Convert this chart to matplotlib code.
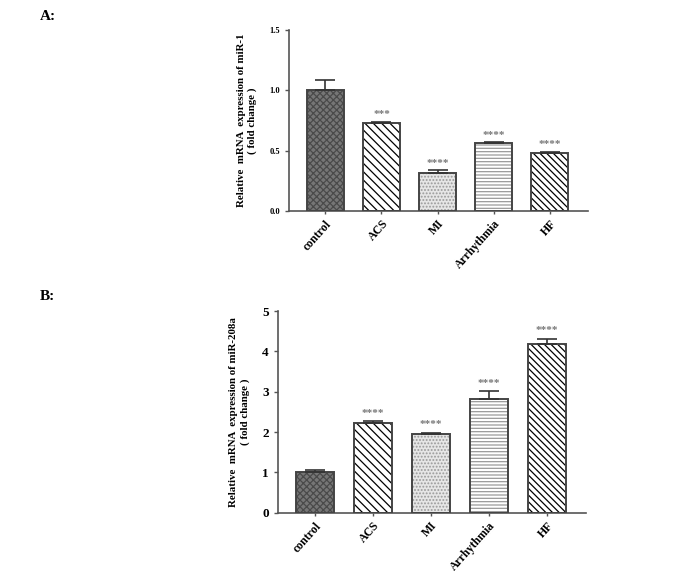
import matplotlib
matplotlib.use("Agg")
import matplotlib.pyplot as plt

plt.rcParams['font.family'] = ['Liberation Serif', 'DejaVu Serif']
plt.rcParams['font.weight'] = 'bold'
plt.rcParams['hatch.linewidth'] = 0.9

groups = ['control', 'ACS', 'MI', 'Arrhythmia', 'HF']

mir1_mean = [1.00, 0.73, 0.31, 0.56, 0.48]
mir1_err = [0.08, 0.01, 0.025, 0.01, 0.01]
mir1_stars = ['', '***', '****', '****', '****']

mir208_mean = [1.00, 2.22, 1.95, 2.83, 4.18]
mir208_err = [0.05, 0.05, 0.04, 0.19, 0.14]
mir208_stars = ['', '****', '****', '****', '****']

# bar styles: facecolor, hatch, hatch colour
styles = [
    ('#767676', 'xxxxx', '#4a4a4a'),
    ('white', '\\\\\\\\', 'black'),
    ('#e6e6e6', '.....', '#9a9a9a'),
    ('white', '-----', '#999999'),
    ('white', '\\\\\\\\\\', 'black'),
]


def panel(ax, means, errs, stars, ymax, yticks, ylabel, star_off):
    x = range(len(groups))
    for i in x:
        fc, hatch, hc = styles[i]
        ax.bar(i, means[i], width=0.66, color=fc, edgecolor=hc,
               hatch=hatch, linewidth=0, zorder=2)
        ax.bar(i, means[i], width=0.66, fill=False, edgecolor='#444444',
               linewidth=1.4, zorder=3)
        ax.errorbar(i, means[i], yerr=[[0], [errs[i]]], fmt='none',
                    ecolor='#333333', elinewidth=1.2, capsize=7, capthick=1.2,
                    zorder=4)
        if stars[i]:
            ax.text(i, means[i] + errs[i] + star_off, stars[i], ha='center',
                    va='bottom', color='#777777', fontsize=8)
    ax.set_xlim(-0.65, 4.68)
    ax.set_ylim(0, ymax)
    ax.set_yticks(yticks)
    ax.set_xticks(list(x))
    ax.set_xticklabels(groups, rotation=48, ha='right', rotation_mode='anchor',
                       fontsize=8.5, fontweight='bold')
    ax.spines['top'].set_visible(False)
    ax.spines['right'].set_visible(False)
    for s in ('left', 'bottom'):
        ax.spines[s].set_color('#555555')
        ax.spines[s].set_linewidth(1.2)
    ax.tick_params(axis='y', length=3, width=1, color='#555555')
    ax.tick_params(axis='x', length=2, width=1, color='#555555', pad=3)
    ax.set_ylabel(ylabel, fontsize=7.8, fontweight='bold', labelpad=9)


fig = plt.figure(figsize=(6.96, 5.73), dpi=100)

ax1 = fig.add_axes([0.415, 0.632, 0.43, 0.316])
panel(ax1, mir1_mean, mir1_err, mir1_stars, 1.5, [0.0, 0.5, 1.0, 1.5],
      'Relative  mRNA  expression of miR-1\n( fold change )', 0.02)
ax1.set_yticklabels(['0.0', '0.5', '1.0', '1.5'], fontsize=6, fontweight='bold')

ax2 = fig.add_axes([0.399, 0.105, 0.443, 0.352])
panel(ax2, mir208_mean, mir208_err, mir208_stars, 5, [0, 1, 2, 3, 4, 5],
      'Relative  mRNA  expression of miR-208a\n( fold change )', 0.08)
ax2.set_yticklabels(['0', '1', '2', '3', '4', '5'], fontsize=9.5, fontweight='bold')

fig.text(40 / 696, 1 - 16 / 573, 'A:', fontsize=11, fontweight='bold', va='center')
fig.text(40 / 696, 1 - 297 / 573, 'B:', fontsize=11, fontweight='bold', va='center')

fig.savefig('out.png', dpi=100)
